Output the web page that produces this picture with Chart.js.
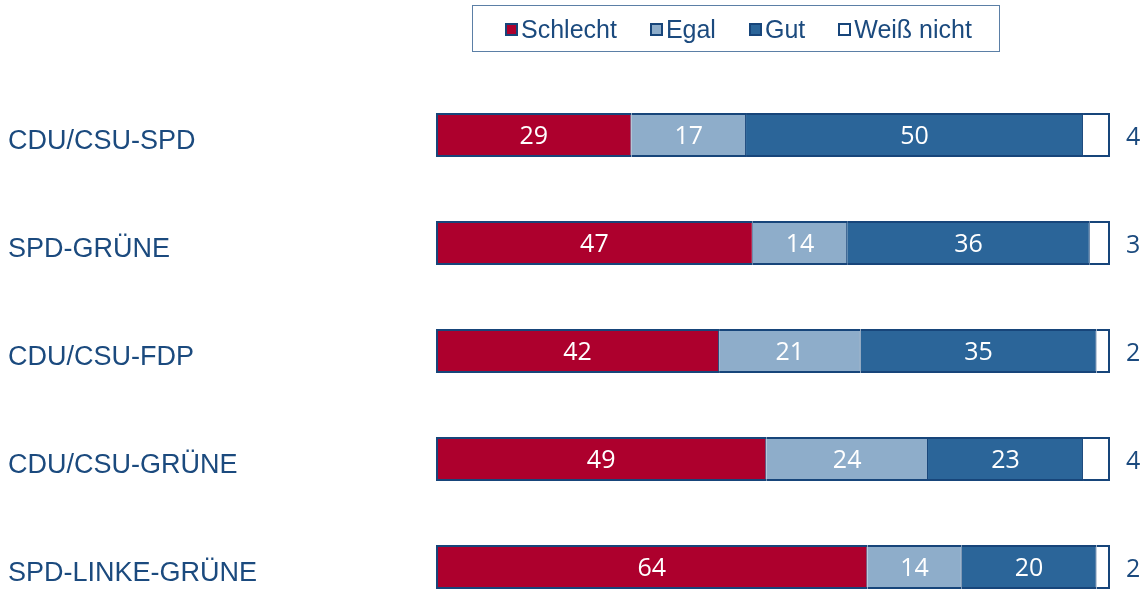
<!DOCTYPE html>
<html>
<head>
<meta charset="utf-8">
<script src="https://cdn.jsdelivr.net/npm/chart.js@4"></script>
<style>
    body { margin: 0; overflow: hidden; background: #fff; }
    #wrap { position: relative; width: 1146px; height: 590px; overflow: hidden; }
    #chart { position: absolute; left: 0; top: 0; }
    #legend {
        position: absolute; left: 472px; top: 5px; width: 494px; height: 45px;
        border: 1px solid #5b7fa6; box-sizing: content-box; padding-left: 32px;
        display: flex; align-items: center; overflow: hidden;
        font-family: "Liberation Sans", Arial, sans-serif; font-size: 25px;
        color: #1b4a7e; white-space: nowrap;
    }
    .item { display: flex; align-items: center; flex-shrink: 0; margin-right: 33px; padding-top: 1px; }
    .item:last-child { margin-right: 0; }
    .swatch { width: 13px; height: 13px; box-sizing: border-box; border: 2px solid #17457a; margin-right: 3px; }
</style>
</head>
<body>
<div id="wrap">
    <canvas id="chart" width="1146" height="641"></canvas>
    <div id="legend"></div>
</div>
<script>
// Umfrage: Koalitionen
const coalitions = ['CDU/CSU-SPD', 'SPD-GRÜNE', 'CDU/CSU-FDP', 'CDU/CSU-GRÜNE', 'SPD-LINKE-GRÜNE'];
const seriesNames = ['Schlecht', 'Egal', 'Gut', 'Weiß nicht'];
const schlecht = [29, 47, 42, 49, 64];
const egal = [17, 14, 21, 24, 14];
const gut = [50, 36, 35, 23, 20];
const weissNicht = [4, 3, 2, 4, 2];

const fills = ['#ad002d', '#8eadca', '#2b6599', '#ffffff'];
const borderColor = '#17457a';
const textBlue = '#1b4a7e';

const borders = [
    { top: 2, bottom: 2, left: 2, right: 1 },
    { top: 2, bottom: 2, left: 0, right: 1 },
    { top: 2, bottom: 2, left: 0, right: 1 },
    { top: 2, bottom: 2, left: 0, right: 2 }
];

const values = [schlecht, egal, gut, weissNicht];

// HTML legend
const legendBox = document.getElementById('legend');
seriesNames.forEach((name, i) => {
    const item = document.createElement('div');
    item.className = 'item';
    const sw = document.createElement('span');
    sw.className = 'swatch';
    sw.style.background = fills[i];
    const txt = document.createElement('span');
    txt.textContent = name;
    item.appendChild(sw);
    item.appendChild(txt);
    legendBox.appendChild(item);
});

const valueLabels = {
    id: 'valueLabels',
    afterDatasetsDraw(chart) {
        const ctx = chart.ctx;
        ctx.save();
        ctx.font = '25px "Open Sans", sans-serif';
        chart.data.datasets.forEach((ds, i) => {
            const meta = chart.getDatasetMeta(i);
            meta.data.forEach((bar, j) => {
                const v = ds.data[j];
                if (i === 3) {
                    ctx.fillStyle = textBlue;
                    ctx.textAlign = 'left';
                    ctx.fillText(v, chart.chartArea.right + 16, bar.y + 10);
                } else {
                    ctx.fillStyle = '#ffffff';
                    ctx.textAlign = 'center';
                    ctx.fillText(v, (bar.x + bar.base) / 2, bar.y + 9);
                }
            });
        });
        ctx.restore();
    }
};

new Chart(document.getElementById('chart'), {
    type: 'bar',
    data: {
        labels: coalitions,
        datasets: seriesNames.map((name, i) => ({
            label: name,
            data: values[i],
            backgroundColor: fills[i],
            borderColor: borderColor,
            borderWidth: borders[i],
            borderSkipped: false,
            categoryPercentage: 1,
            barPercentage: 44 / 108
        }))
    },
    options: {
        indexAxis: 'y',
        responsive: false,
        animation: false,
        devicePixelRatio: 1,
        layout: { padding: { left: 8, top: 81, right: 36, bottom: 20 } },
        scales: {
            x: {
                stacked: true,
                min: 0,
                max: 100,
                display: false
            },
            y: {
                stacked: true,
                grid: { display: false },
                border: { display: false },
                ticks: {
                    crossAlign: 'far',
                    color: textBlue,
                    labelOffset: 7,
                    font: { family: '"Liberation Sans", Arial, sans-serif', size: 27 }
                },
                afterFit(scale) {
                    scale.width = 428;
                }
            }
        },
        plugins: {
            legend: { display: false },
            tooltip: { enabled: false }
        }
    },
    plugins: [valueLabels]
});
</script>
</body>
</html>
